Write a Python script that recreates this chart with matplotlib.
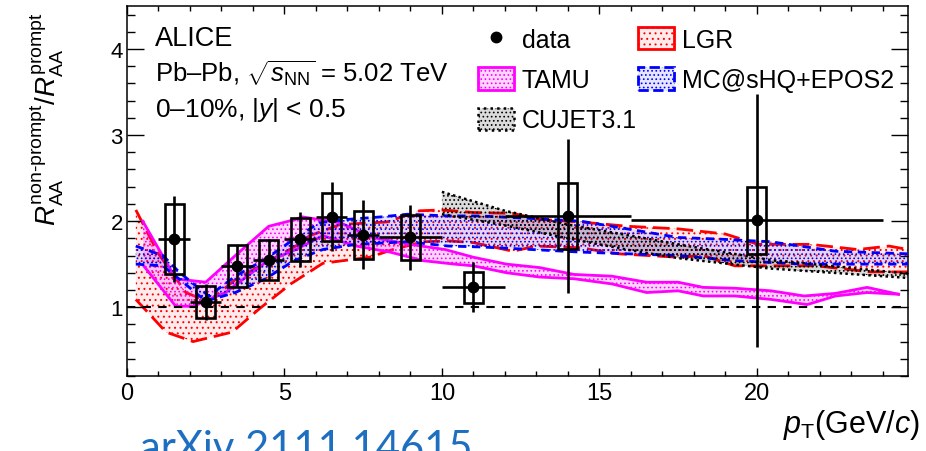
import matplotlib
matplotlib.use("Agg")
import matplotlib.pyplot as plt
from matplotlib.patches import Rectangle, Patch
from matplotlib.lines import Line2D
from matplotlib.ticker import MultipleLocator
import numpy as np

plt.rcParams['font.family'] = 'Liberation Sans'
plt.rcParams['mathtext.fontset'] = 'custom'
plt.rcParams['mathtext.rm'] = 'Liberation Sans'
plt.rcParams['mathtext.it'] = 'Liberation Sans:italic'
plt.rcParams['mathtext.bf'] = 'Liberation Sans:bold'
plt.rcParams['hatch.linewidth'] = 0.7

# measured ratio non-prompt / prompt
pt = [1.5, 2.5, 3.5, 4.5, 5.5, 6.5, 7.5, 9, 11, 14, 20]
pt_err = [0.5, 0.5, 0.5, 0.5, 0.5, 0.5, 0.5, 1, 1, 2, 4]
ratio = [1.79, 1.06, 1.48, 1.55, 1.79, 2.05, 1.84, 1.81, 1.23, 2.06, 2.01]
stat = [0.50, 0.21, 0.24, 0.24, 0.32, 0.40, 0.40, 0.38, 0.29, 0.90, 1.47]
syst = [0.41, 0.19, 0.24, 0.23, 0.25, 0.28, 0.28, 0.26, 0.18, 0.38, 0.39]
box_half_width = 0.3

# model bands (upper / lower edges)
lgr_up_x = [0.28, 1.0, 1.87, 2.2, 2.6, 3.44, 5.36, 5.8, 6.76, 8.25, 9.29, 10.0,
            11.0, 12.25, 13.1, 14.4, 15.9, 17.5, 19.0, 20.05, 21.7, 23.2, 24.2, 24.8]
lgr_up_y = [2.13, 1.62, 1.17, 1.12, 1.07, 1.32, 1.71, 1.83, 1.96, 1.99, 2.12, 2.13,
            2.10, 2.09, 2.02, 1.99, 1.94, 1.91, 1.85, 1.73, 1.73, 1.67, 1.71, 1.67]
lgr_lo_x = [0.28, 1.24, 2.1, 3.34, 4.2, 5.2, 6.22, 7.7, 8.45, 9.41, 10.2, 11.0,
            12.25, 13.0, 14.4, 15.6, 17.5, 18.3, 19.3, 21.9, 23.6, 24.8]
lgr_lo_y = [1.09, 0.71, 0.60, 0.71, 0.98, 1.27, 1.51, 1.58, 1.67, 1.76, 1.77, 1.75,
            1.65, 1.71, 1.69, 1.62, 1.58, 1.60, 1.48, 1.48, 1.41, 1.41]

tamu_up_x = [0.5, 1.55, 2.5, 3.44, 4.5, 5.36, 5.56, 6.78, 7.8, 8.98, 10.1, 11.0,
             12.05, 13.1, 14.2, 15.4, 16.5, 17.5, 18.3, 19.3, 20.45, 21.5, 22.5, 23.5, 24.5]
tamu_up_y = [2.00, 1.33, 1.29, 1.60, 1.94, 2.02, 2.05, 1.98, 1.81, 1.73, 1.67, 1.58,
             1.50, 1.46, 1.38, 1.36, 1.29, 1.29, 1.23, 1.22, 1.19, 1.13, 1.16, 1.23, 1.15]
tamu_lo_x = [0.53, 1.55, 2.1, 3.13, 4.4, 5.36, 6.22, 7.28, 8.35, 9.41, 10.4, 11.0,
             12.05, 13.1, 14.2, 15.4, 16.5, 17.5, 18.3, 19.3, 20.45, 21.6, 22.5, 23.5, 24.5]
tamu_lo_y = [1.48, 1.01, 1.01, 1.17, 1.52, 1.67, 1.83, 1.71, 1.64, 1.54, 1.50, 1.48,
             1.40, 1.35, 1.33, 1.27, 1.17, 1.19, 1.13, 1.13, 1.09, 1.03, 1.13, 1.17, 1.15]

mc_up_x = [0.28, 1.14, 1.65, 2.18, 2.6, 3.44, 4.4, 5.3, 6.1, 7.0, 8.1, 8.9, 10.2,
           11.2, 12.9, 14.4, 15.4, 17.5, 18.85, 20.45, 22.5, 24.8]
mc_up_y = [1.71, 1.60, 1.41, 1.25, 1.13, 1.36, 1.56, 1.79, 1.98, 2.02, 2.05, 2.08, 2.06,
           2.06, 2.03, 2.00, 1.94, 1.81, 1.79, 1.76, 1.65, 1.62]
mc_lo_x = [0.28, 1.14, 1.78, 2.5, 3.44, 4.4, 5.3, 6.22, 7.28, 8.9, 10.2, 11.2, 12.85,
           14.4, 15.9, 17.5, 19.3, 21.5, 23.6, 24.8]
mc_lo_y = [1.50, 1.48, 1.29, 1.07, 1.17, 1.33, 1.54, 1.67, 1.73, 1.76, 1.71, 1.70, 1.67,
           1.64, 1.62, 1.60, 1.54, 1.50, 1.50, 1.50]

cujet_x = [10.0, 12.0, 14.0, 16.0, 17.5, 20.4, 24.8]
cujet_up = [2.34, 2.12, 1.96, 1.83, 1.73, 1.55, 1.39]
cujet_lo = [2.08, 1.95, 1.80, 1.66, 1.57, 1.45, 1.34]

LGR_TINT = (1, 0.25, 0.25, 0.10)
TAMU_TINT = (1, 0, 1, 0.16)
MC_TINT = (0.2, 0.2, 1, 0.12)
CUJET_TINT = (0, 0, 0, 0.14)

fig = plt.figure(figsize=(9.26, 4.52), dpi=100)
ax = fig.add_axes([127 / 926, 1 - 377 / 452, 781 / 926, 370 / 452])


def band(xu, yu, xl, yl, color, tint, hatch, ls, dashes, z, lw=2.0):
    xs = np.concatenate([xu, xl[::-1]])
    ys = np.concatenate([yu, yl[::-1]])
    ax.fill(xs, ys, facecolor=tint, edgecolor=color, hatch=hatch,
            linewidth=0, zorder=z)
    for xx, yy in ((xu, yu), (xl, yl)):
        line, = ax.plot(xx, yy, color=color, lw=lw, linestyle=ls, zorder=z + 0.5)
        if dashes is not None:
            line.set_dashes(dashes)


band(np.array(lgr_up_x), np.array(lgr_up_y), np.array(lgr_lo_x), np.array(lgr_lo_y),
     '#ff0000', LGR_TINT, '...', '--', (6, 2.5), 1)
band(np.array(tamu_up_x), np.array(tamu_up_y), np.array(tamu_lo_x), np.array(tamu_lo_y),
     '#ff00ff', TAMU_TINT, '....', '-', None, 2)
band(np.array(mc_up_x), np.array(mc_up_y), np.array(mc_lo_x), np.array(mc_lo_y),
     '#0000ff', MC_TINT, '....', '--', (3, 2), 3)
band(np.array(cujet_x), np.array(cujet_up), np.array(cujet_x), np.array(cujet_lo),
     '#000000', CUJET_TINT, '....', ':', (1, 1.3), 4, lw=1.8)

# unity reference
ref, = ax.plot([0, 24.8], [1, 1], color='k', lw=1.5, zorder=6)
ref.set_dashes((4, 3.5))

# data: systematic boxes, statistical bars, points
for x, y, s in zip(pt, ratio, syst):
    ax.add_patch(Rectangle((x - box_half_width, y - s), 2 * box_half_width, 2 * s,
                           facecolor='none', edgecolor='k', lw=1.9, zorder=8))
ax.errorbar(pt, ratio, xerr=pt_err, yerr=stat, fmt='o', color='k', ms=7.5,
            elinewidth=1.9, capsize=0, zorder=9)

ax.set_xlim(0, 24.8)
ax.set_ylim(0.2, 4.5)
ax.xaxis.set_major_locator(MultipleLocator(5))
ax.xaxis.set_minor_locator(MultipleLocator(1))
ax.yaxis.set_major_locator(MultipleLocator(1))
ax.yaxis.set_minor_locator(MultipleLocator(0.2))
ax.tick_params(which='both', direction='in', top=True, right=True, width=1.0)
ax.tick_params(axis='x', which='major', length=6, labelsize=17, pad=4)
ax.tick_params(axis='x', which='minor', length=3.5)
ax.tick_params(axis='y', which='major', length=12, labelsize=16, pad=3)
ax.tick_params(axis='y', which='minor', length=6)
for sp in ax.spines.values():
    sp.set_linewidth(1.1)

ax.set_ylabel(r'$R_{\mathrm{AA}}^{\text{non-prompt}}/R_{\mathrm{AA}}^{\text{prompt}}$',
              fontsize=20, loc='top')
ax.yaxis.set_label_coords(-0.078, 0.985)
ax.set_xlabel(r'$p_{\mathrm{T}}$(GeV/$c$)', fontsize=22, loc='right')
ax.xaxis.set_label_coords(1.015, -0.085)

fig.text(155 / 926, 1 - 46 / 452, 'ALICE', fontsize=19.5, va='baseline')
fig.text(155 / 926, 1 - 83 / 452, r'Pb–Pb, $\sqrt{s_{\mathrm{NN}}}$ = 5.02 TeV',
         fontsize=18.5, va='baseline')
fig.text(155 / 926, 1 - 117 / 452, r'0–10%, |$y$| < 0.5', fontsize=19, va='baseline')

handles = [
    Line2D([], [], marker='o', color='k', linestyle='none', markersize=7.5),
    Patch(facecolor=TAMU_TINT, edgecolor='#ff00ff', hatch='....', lw=2),
    Patch(facecolor=CUJET_TINT, edgecolor='k', hatch='....', lw=1.8, ls=':'),
    Patch(facecolor=LGR_TINT, edgecolor='#ff0000', hatch='...', lw=2),
    Patch(facecolor=MC_TINT, edgecolor='#0000ff', hatch='....', lw=2, ls='--'),
]
labels = ['data', 'TAMU', 'CUJET3.1', 'LGR', 'MC@sHQ+EPOS2']
fig.legend(handles, labels, loc='upper left', bbox_to_anchor=(478 / 926, 1 - 28 / 452),
           ncol=2, frameon=False, fontsize=18, handlelength=1.45, handleheight=1.0,
           handletextpad=0.3, labelspacing=0.62, columnspacing=0.05, borderpad=0,
           borderaxespad=0)

fig.text(140 / 926, 1 - 430 / 452, 'arXiv 2111.14615', fontsize=30, color='#1f6fc0',
         family='Lato', va='top')

fig.savefig('out.png', dpi=100)
